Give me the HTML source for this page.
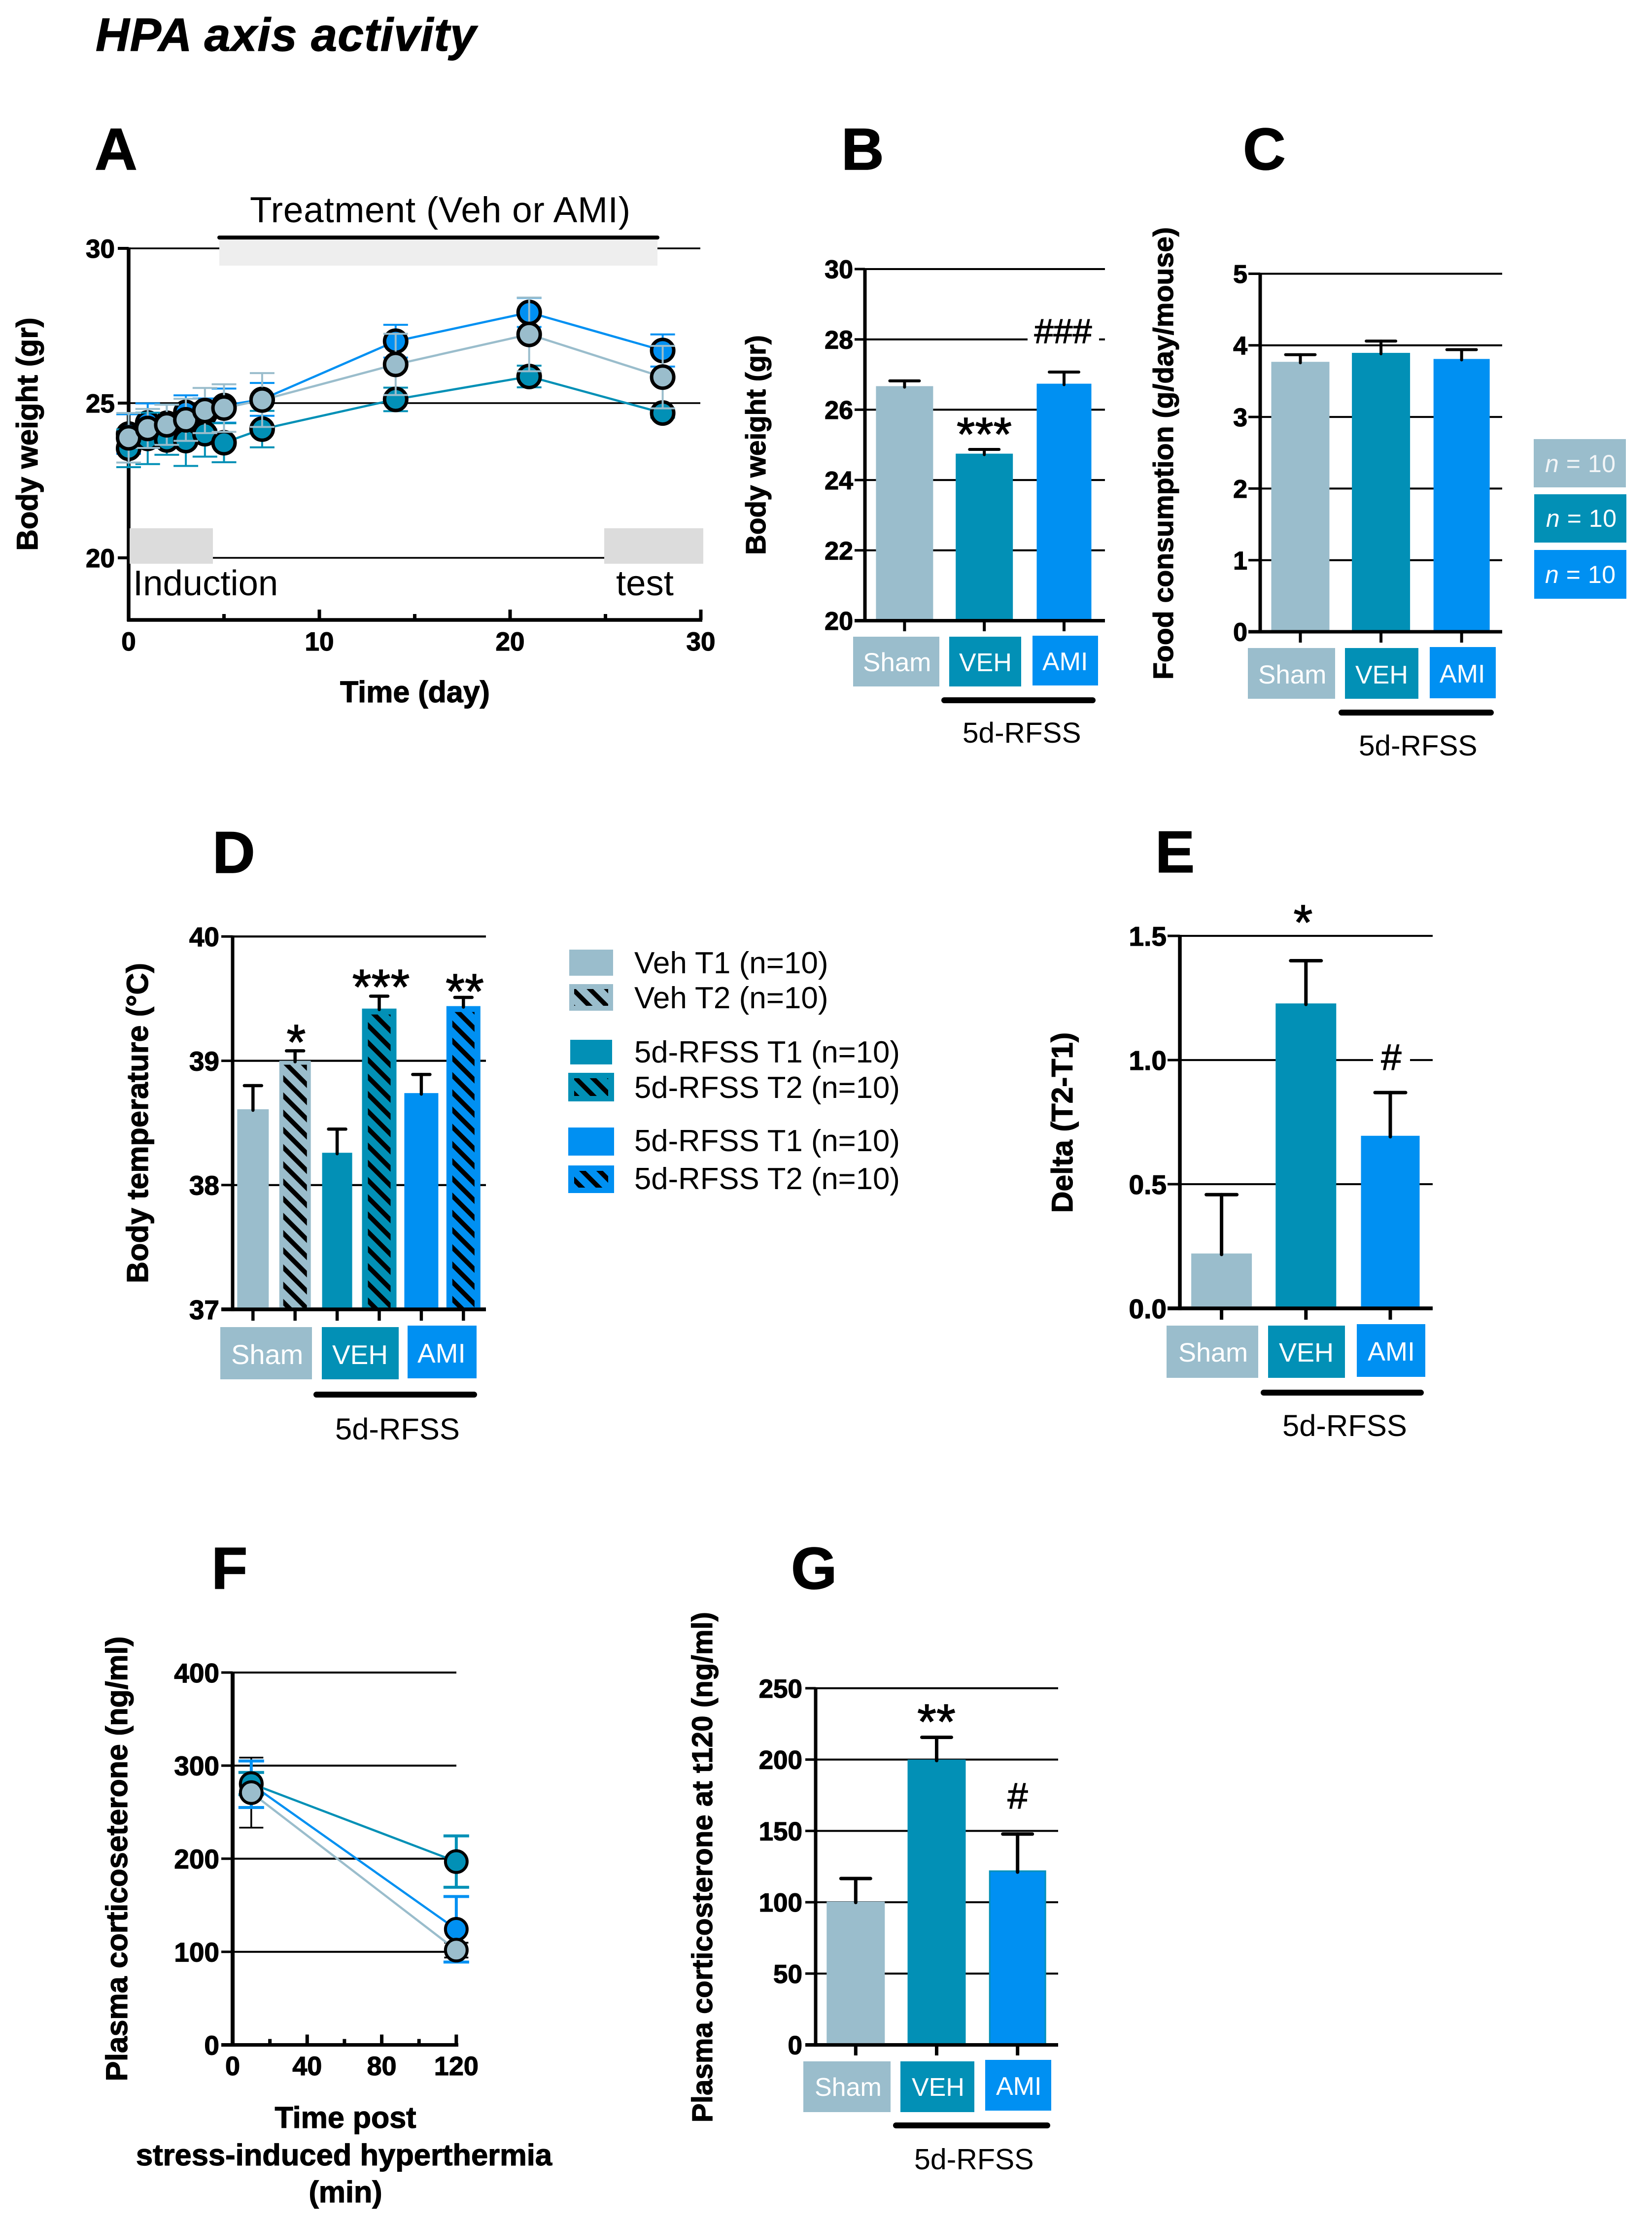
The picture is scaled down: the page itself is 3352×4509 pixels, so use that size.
<!DOCTYPE html>
<html lang="en">
<head>
<meta charset="utf-8">
<title>HPA axis activity</title>
<style>
html,body{margin:0;padding:0;background:#fff;}
svg{display:block;font-family:"Liberation Sans",Arial,sans-serif;}
.b,text[font-weight="bold"]{font-weight:bold;stroke:#000;stroke-width:1.2px;}
.lbl{font-weight:bold;font-size:120px;fill:#000;stroke:#000;stroke-width:1.5px;}
.sig{stroke:#000;stroke-width:1.4px;}
.box{fill:#fff;}
</style>
</head>
<body>
<svg id="figure" width="3352" height="4509" viewBox="0 0 3352 4509" xmlns="http://www.w3.org/2000/svg">
<defs>
<pattern id="hatch" patternUnits="userSpaceOnUse" width="24.7" height="24.7" patternTransform="rotate(45)">
<rect x="0" y="0" width="24.7" height="9.5" fill="#000"/>
</pattern>
</defs>

<text x="194" y="103" font-size="95" font-weight="bold" font-style="italic" textLength="772" lengthAdjust="spacing">HPA axis activity</text>

<!-- Panel A -->
<text class="lbl" x="192" y="344">A</text>
<text x="507" y="451" font-size="73" textLength="772" lengthAdjust="spacing">Treatment (Veh or AMI)</text>
<g id="a-axes"></g>
<rect x="445" y="484" width="889" height="55" fill="#eeeeee"/>
<line x1="445" y1="482" x2="1334" y2="482" stroke="#000" stroke-width="8" stroke-linecap="round"/>
<rect x="263" y="1072" width="169" height="72" fill="#dcdcdc"/>
<rect x="1226" y="1072" width="201" height="72" fill="#dcdcdc"/>
<text x="270" y="1208" font-size="72.5">Induction</text>
<text x="1250" y="1208" font-size="72.5">test</text>
<g id="a-marks"></g>
<text class="b" x="842" y="1425" font-size="61" text-anchor="middle">Time (day)</text>
<text class="b" x="76" y="881" font-size="60" text-anchor="middle" transform="rotate(-90 76 881)">Body weight (gr)</text>

<!-- Panel B -->
<text class="lbl" x="1707" y="344">B</text>
<g id="b-marks"></g>
<rect x="2085" y="684" width="145" height="12" fill="#fff"/>
<text class="sig" x="1997" y="914" font-size="96" text-anchor="middle">***</text>
<text class="sig" x="2157" y="696" font-size="70" text-anchor="middle">###</text>
<text class="b" x="1553" y="903" font-size="56.5" text-anchor="middle" transform="rotate(-90 1553 903)">Body weight (gr)</text>
<g>
<rect x="1731" y="1292" width="175" height="101" fill="#9abdcc"/>
<rect x="1926" y="1292" width="146" height="101" fill="#0290b6"/>
<rect x="2095" y="1290" width="133" height="101" fill="#0090f2"/>
<text class="box" x="1751" y="1362" font-size="53">Sham</text>
<text class="box" x="1946" y="1362" font-size="52">VEH</text>
<text class="box" x="2115" y="1360" font-size="52">AMI</text>
<line x1="1916" y1="1421" x2="2217" y2="1421" stroke="#000" stroke-width="12" stroke-linecap="round"/>
<text x="1953" y="1507" font-size="58.5">5d-RFSS</text>
</g>

<!-- Panel C -->
<text class="lbl" x="2522" y="344">C</text>
<g id="c-marks"></g>
<text class="b" x="2380" y="920" font-size="57" text-anchor="middle" textLength="918" lengthAdjust="spacing" transform="rotate(-90 2380 920)">Food consumption (g/day/mouse)</text>
<g>
<rect x="2532" y="1315" width="177" height="103" fill="#9abdcc"/>
<rect x="2729" y="1315" width="149" height="103" fill="#0290b6"/>
<rect x="2901" y="1313" width="134" height="104" fill="#0090f2"/>
<text class="box" x="2553" y="1387" font-size="53">Sham</text>
<text class="box" x="2750" y="1387" font-size="52">VEH</text>
<text class="box" x="2921" y="1385" font-size="52">AMI</text>
<line x1="2722" y1="1446" x2="3025" y2="1446" stroke="#000" stroke-width="12" stroke-linecap="round"/>
<text x="2757" y="1533" font-size="58.5">5d-RFSS</text>
</g>
<g>
<rect x="3112" y="891" width="187" height="98" fill="#9abdcc"/>
<rect x="3113" y="1003" width="187" height="98" fill="#0290b6"/>
<rect x="3113" y="1116" width="187" height="99" fill="#0090f2"/>
<text x="3135" y="958" font-size="50" fill="#f2f5f7" textLength="143" lengthAdjust="spacing"><tspan font-style="italic">n</tspan> = 10</text>
<text x="3137" y="1069" font-size="50" fill="#fff" textLength="143" lengthAdjust="spacing"><tspan font-style="italic">n</tspan> = 10</text>
<text x="3135" y="1183" font-size="50" fill="#fff" textLength="143" lengthAdjust="spacing"><tspan font-style="italic">n</tspan> = 10</text>
</g>

<!-- Panel D -->
<text class="lbl" x="431" y="1771">D</text>
<g id="d-marks"></g>
<text class="sig" x="601" y="2149" font-size="100" text-anchor="middle">*</text>
<text class="sig" x="773" y="2037" font-size="100" text-anchor="middle">***</text>
<text class="sig" x="943" y="2046" font-size="100" text-anchor="middle">**</text>
<text class="b" x="300" y="2279" font-size="61" text-anchor="middle" textLength="650" lengthAdjust="spacing" transform="rotate(-90 300 2279)">Body temperature (°C)</text>
<g>
<rect x="447" y="2693" width="186" height="106" fill="#9abdcc"/>
<rect x="653" y="2693" width="156" height="106" fill="#0290b6"/>
<rect x="827" y="2690" width="140" height="107" fill="#0090f2"/>
<text class="box" x="469" y="2768" font-size="56">Sham</text>
<text class="box" x="674" y="2768" font-size="55">VEH</text>
<text class="box" x="847" y="2765" font-size="55">AMI</text>
<line x1="642" y1="2830" x2="962" y2="2830" stroke="#000" stroke-width="12" stroke-linecap="round"/>
<text x="680" y="2921" font-size="61.5">5d-RFSS</text>
</g>
<g>
<rect x="1155" y="1927" width="89" height="53" fill="#9abdcc"/>
<rect x="1155" y="1997" width="89" height="54" fill="#9abdcc"/>
<rect x="1165" y="2007" width="69" height="34" fill="url(#hatch)"/>
<rect x="1157" y="2110" width="85" height="50" fill="#0290b6"/>
<rect x="1153" y="2177" width="93" height="58" fill="#0290b6"/>
<rect x="1165" y="2188" width="69" height="36" fill="url(#hatch)"/>
<rect x="1153" y="2288" width="93" height="57" fill="#0090f2"/>
<rect x="1153" y="2365" width="93" height="56" fill="#0090f2"/>
<rect x="1165" y="2376" width="69" height="34" fill="url(#hatch)"/>
<text x="1287" y="1975" font-size="62">Veh T1 (n=10)</text>
<text x="1287" y="2046" font-size="62">Veh T2 (n=10)</text>
<text x="1287" y="2156" font-size="61.7">5d-RFSS T1 (n=10)</text>
<text x="1287" y="2228" font-size="61.7">5d-RFSS T2 (n=10)</text>
<text x="1287" y="2336" font-size="61.7">5d-RFSS T1 (n=10)</text>
<text x="1287" y="2413" font-size="61.7">5d-RFSS T2 (n=10)</text>
</g>

<!-- Panel E -->
<text class="lbl" x="2344" y="1770">E</text>
<g id="e-marks"></g>
<rect x="2786" y="2145" width="75" height="12" fill="#fff"/>
<text class="sig" x="2644" y="1906" font-size="100" text-anchor="middle">*</text>
<text class="sig" x="2823" y="2171" font-size="74" text-anchor="middle">#</text>
<text class="b" x="2176" y="2278" font-size="60.5" text-anchor="middle" transform="rotate(-90 2176 2278)">Delta (T2-T1)</text>
<g>
<rect x="2367" y="2690" width="186" height="106" fill="#9abdcc"/>
<rect x="2573" y="2690" width="156" height="106" fill="#0290b6"/>
<rect x="2753" y="2687" width="139" height="107" fill="#0090f2"/>
<text class="box" x="2391" y="2763" font-size="54">Sham</text>
<text class="box" x="2595" y="2763" font-size="54">VEH</text>
<text class="box" x="2775" y="2761" font-size="54">AMI</text>
<line x1="2564" y1="2826" x2="2883" y2="2826" stroke="#000" stroke-width="12" stroke-linecap="round"/>
<text x="2602" y="2914" font-size="61.5">5d-RFSS</text>
</g>

<!-- Panel F -->
<text class="lbl" x="429" y="3224">F</text>
<g id="f-marks"></g>
<text class="b" x="258" y="3772" font-size="61" text-anchor="middle" textLength="903" lengthAdjust="spacing" transform="rotate(-90 258 3772)">Plasma corticoseterone (ng/ml)</text>
<text class="b" x="701" y="4318" font-size="61" text-anchor="middle">Time post</text>
<text class="b" x="698" y="4394" font-size="61.5" text-anchor="middle">stress-induced hyperthermia</text>
<text class="b" x="701" y="4469" font-size="61" text-anchor="middle">(min)</text>

<!-- Panel G -->
<text class="lbl" x="1605" y="3224">G</text>
<g id="g-marks"></g>
<text class="sig" x="1900" y="3528" font-size="100" text-anchor="middle">**</text>
<text class="sig" x="2065" y="3670" font-size="74" text-anchor="middle">#</text>
<text class="b" x="1445" y="3789" font-size="58" text-anchor="middle" textLength="1036" lengthAdjust="spacing" transform="rotate(-90 1445 3789)">Plasma corticosterone at t120 (ng/ml)</text>
<g>
<rect x="1630" y="4183" width="177" height="103" fill="#9abdcc"/>
<rect x="1827" y="4183" width="150" height="103" fill="#0290b6"/>
<rect x="1999" y="4180" width="134" height="103" fill="#0090f2"/>
<text class="box" x="1653" y="4253" font-size="52">Sham</text>
<text class="box" x="1850" y="4253" font-size="52">VEH</text>
<text class="box" x="2021" y="4251" font-size="52">AMI</text>
<line x1="1818" y1="4313" x2="2125" y2="4313" stroke="#000" stroke-width="12" stroke-linecap="round"/>
<text x="1855" y="4402" font-size="59">5d-RFSS</text>
</g>
</svg>

<script>
/* ---------- Panel A data ---------- */
const aDays = [0, 1, 2, 3, 4, 5, 7, 14, 21, 28];
const aShamMean = [23.88, 24.18, 24.30, 24.46, 24.76, 24.84, 25.10, 26.25, 27.22, 25.84];
const aShamErr = [0.80, 0.63, 0.65, 0.68, 0.73, 0.77, 0.87, 0.99, 1.19, 1.01];
const aVehMean = [23.54, 23.86, 23.81, 23.79, 24.01, 23.72, 24.16, 25.12, 25.86, 24.68];
const aVehErr = [0.61, 0.83, 0.48, 0.82, 0.74, 0.63, 0.59, 0.38, 0.35, 0.15];
const aAmiMean = [24.00, 24.36, 24.35, 24.70, 24.65, 24.92, 25.12, 27.00, 27.93, 26.70];
const aAmiErr = [0.64, 0.63, 0.60, 0.55, 0.50, 0.55, 0.53, 0.53, 0.47, 0.52];
const aYTicks = [20, 25, 30];
const aXTicks = [0, 10, 20, 30];
const aXMinor = [5, 15, 25];

/* ---------- Panel B data ---------- */
const bCategories = ['sham', 'veh', 'ami'];
const bValues = [26.67, 24.75, 26.74];
const bErrors = [0.15, 0.12, 0.33];
const bYTicks = [20, 22, 24, 26, 28, 30];

/* ---------- Panel C data ---------- */
const cCategories = ['sham', 'veh', 'ami'];
const cValues = [3.77, 3.895, 3.81];
const cErrors = [0.10, 0.165, 0.13];
const cYTicks = [0, 1, 2, 3, 4, 5];

/* ---------- Panel D data ---------- */
const dCategories = ['sham-t1', 'sham-t2', 'veh-t1', 'veh-t2', 'ami-t1', 'ami-t2'];
const dValues = [38.61, 39.00, 38.26, 39.42, 38.74, 39.44];
const dErrors = [0.19, 0.08, 0.19, 0.10, 0.15, 0.07];
const dYTicks = [37, 38, 39, 40];

/* ---------- Panel E data ---------- */
const eCategories = ['sham', 'veh', 'ami'];
const eValues = [0.221, 1.228, 0.695];
const eErrors = [0.237, 0.172, 0.174];
const eYTicks = ['0.0', '0.5', '1.0', '1.5'];

/* ---------- Panel F data ---------- */
const fTimes = [10, 120];
const fShamMean = [271, 101.8];
const fShamErr = [37.6, 8];
const fVehMean = [280.7, 196.9];
const fVehErr = [12, 27.6];
const fAmiMean = [280, 124.2];
const fAmiErr = [25, 35.2];
const fYTicks = [0, 100, 200, 300, 400];
const fXTicks = [0, 40, 80, 120];
const fXMinor = [20, 60, 100];

/* ---------- Panel G data ---------- */
const gCategories = ['sham', 'veh', 'ami'];
const gValues = [100.5, 200, 121.8];
const gErrors = [16.1, 15.6, 26];
const gYTicks = [0, 50, 100, 150, 200, 250];

const SHAM = '#9abdcc', VEH = '#0290b6', AMI = '#0090f2';
const NS = 'http://www.w3.org/2000/svg';

function mk(tag, parent, name, attrs) {
  const el = document.createElementNS(NS, tag);
  
  
  for (const k in attrs) el.setAttribute(k, attrs[k]);
  parent.appendChild(el);
  return el;
}
function ln(parent, name, x1, y1, x2, y2, color, w, cap) {
  return mk('line', parent, name, {x1: x1, y1: y1, x2: x2, y2: y2, stroke: color, 'stroke-width': w, 'stroke-linecap': cap || 'butt'});
}
function tx(parent, name, str, x, y, size, anchor) {
  const t = mk('text', parent, name, {x: x, y: y, 'font-size': size, 'font-weight': 'bold', 'text-anchor': anchor});
  t.textContent = str;
  return t;
}

/* Horizontal gridlines plus y tick marks and labels */
function yAxis(g, ticks, y, o) {
  ticks.forEach(function (t) {
    const yy = y(Number(t));
    const isBase = yy === y(o.base);
    ln(g, 'y-gridline-' + t, o.x0, yy, o.x1, yy, '#000', isBase ? o.baseW : o.gridW);
    ln(g, 'y-tick-' + t, o.tickLeft, yy, o.x0, yy, '#000', isBase ? o.baseW : o.tickW);
    tx(g, 'y-tick-label-' + t, String(t), o.labelX, yy + 0.36 * o.fs, o.fs, 'end');
  });
}

function barChart(g, cats, vals, errs, y, x, o) {
  yAxis(g, o.ticks, y, o);
  cats.forEach(function (c, i) {
    const cx = x(i), hw = o.widths(i) / 2, off = o.offset ? o.offset(i) : 0, col = o.colors[i];
    const top = y(vals[i]), base = y(o.base);
    const bar = mk('rect', g, 'bar-' + c, {x: cx + off - hw, y: top, width: hw * 2, height: base - top, fill: col});
    if (o.outline && o.outline(i)) {
      bar.setAttribute('stroke', VEH);
      bar.setAttribute('stroke-width', 3);
    }
    if (o.hatched && o.hatched(i)) {
      const inset = o.inset(i);
      mk('rect', g, 'bar-hatch-' + c, {x: cx + off - hw + inset, y: top + inset, width: 2 * (hw - inset), height: base - top - inset, fill: 'url(#hatch)'});
    }
    const ey = y(vals[i] + errs[i]);
    ln(g, 'error-stem-' + c, cx, top + 2, cx, ey, '#000', o.errW, 'round');
    ln(g, 'error-cap-' + c, cx - o.capW / 2, ey, cx + o.capW / 2, ey, '#000', o.errW, 'round');
    ln(g, 'x-tick-' + c, cx, base, cx, o.tickDown, '#000', o.xTickW);
  });
  ln(g, 'y-axis-line', o.x0, y(o.top) - o.gridW / 2, o.x0, y(o.base) + o.baseW / 2, '#000', o.axisW);
  ln(g, 'x-axis-line', o.tickLeft, y(o.base), o.x1, y(o.base), '#000', o.baseW);
}

function series(g, name, xs, means, errs, x, y, o) {
  const pts = xs.map(function (d, i) { return x(d) + ',' + y(means[i]); }).join(' ');
  xs.forEach(function (d, i) {
    const cx = x(d), hi = y(means[i] + errs[i]), lo = y(means[i] - errs[i]);
    ln(g, name + '-error-stem-' + d, cx, hi, cx, lo, o.errColor, o.errW);
    ln(g, name + '-error-cap-high-' + d, cx - o.capW / 2, hi, cx + o.capW / 2, hi, o.errColor, o.errW);
    ln(g, name + '-error-cap-low-' + d, cx - o.capW / 2, lo, cx + o.capW / 2, lo, o.errColor, o.errW);
  });
  mk('polyline', g, name + '-line', {points: pts, fill: 'none', stroke: o.color, 'stroke-width': o.lineW});
  xs.forEach(function (d, i) {
    mk('circle', g, name + '-point-' + d, {cx: x(d), cy: y(means[i]), r: o.r, fill: o.color, stroke: '#000', 'stroke-width': o.pointW});
  });
}

/* ---------- Panel A ---------- */
(function () {
  const axes = document.getElementById('a-axes'), marks = document.getElementById('a-marks');
  const x = function (d) { return 261 + d * 38.7; };
  const y = function (v) { return 818 - (v - 25) * 62.8; };
  aYTicks.forEach(function (t) {
    ln(axes, 'y-gridline-' + t, 261, y(t), 1421, y(t), '#000', 3.5);
    ln(axes, 'y-tick-' + t, 239, y(t), 261, y(t), '#000', 6);
    tx(axes, 'y-tick-label-' + t, String(t), 233, y(t) + 19, 53, 'end');
  });
  ln(axes, 'y-axis-line', 261, y(30) - 2, 261, 1261, '#000', 7.5);
  ln(axes, 'x-axis-line', 258, 1258, 1425, 1258, '#000', 7.5);
  aXTicks.forEach(function (t) {
    if (t > 0) ln(axes, 'x-tick-' + t, x(t), 1258, x(t), 1237, '#000', 7);
    tx(axes, 'x-tick-label-' + t, String(t), x(t), 1320, 53, 'middle');
  });
  aXMinor.forEach(function (t) {
    ln(axes, 'x-minor-tick-' + t, x(t), 1258, x(t), 1246, '#000', 7);
  });
  const base = {capW: 50, errW: 4, lineW: 4.5, r: 22.5, pointW: 7};
  series(marks, 'ami', aDays, aAmiMean, aAmiErr, x, y, Object.assign({color: AMI, errColor: AMI}, base));
  series(marks, 'veh', aDays, aVehMean, aVehErr, x, y, Object.assign({color: VEH, errColor: VEH}, base));
  series(marks, 'sham', aDays, aShamMean, aShamErr, x, y, Object.assign({color: SHAM, errColor: SHAM}, base));
})();

/* ---------- Panel B ---------- */
barChart(document.getElementById('b-marks'), bCategories, bValues, bErrors,
  function (v) { return 1259.5 - (v - 20) * 71.35; },
  function (i) { return 1835.4 + i * 161.8; },
  {ticks: bYTicks, base: 20, top: 30, x0: 1755, x1: 2242, tickLeft: 1734, labelX: 1731, fs: 52,
   gridW: 4, tickW: 5, baseW: 7, axisW: 7, errW: 6, capW: 60, xTickW: 6, tickDown: 1281,
   colors: [SHAM, VEH, AMI], widths: function (i) { return i === 2 ? 111 : 116; }});

/* ---------- Panel C ---------- */
barChart(document.getElementById('c-marks'), cCategories, cValues, cErrors,
  function (v) { return 1282 - v * 145.3; },
  function (i) { return 2638.5 + i * 163.6; },
  {ticks: cYTicks, base: 0, top: 5, x0: 2557, x1: 3048, tickLeft: 2533, labelX: 2531, fs: 52,
   gridW: 4, tickW: 5, baseW: 7, axisW: 7, errW: 6, capW: 60, xTickW: 6, tickDown: 1304,
   colors: [SHAM, VEH, AMI], widths: function (i) { return i === 2 ? 114 : 118; }});

/* ---------- Panel D ---------- */
barChart(document.getElementById('d-marks'), dCategories, dValues, dErrors,
  function (v) { return 2657 - (v - 37) * 252.2; },
  function (i) { return 513.3 + i * 85.4; },
  {ticks: dYTicks, base: 37, top: 40, x0: 472, x1: 986, tickLeft: 449, labelX: 445, fs: 55,
   gridW: 4.2, tickW: 5, baseW: 7.5, axisW: 7, errW: 6.5, capW: 35, xTickW: 6.5, tickDown: 2680,
   colors: [SHAM, SHAM, VEH, VEH, AMI, AMI],
   widths: function (i) { return (i === 0 || i === 1) ? 64 : i === 2 ? 61 : i === 3 ? 70 : 69; },
   hatched: function (i) { return i % 2 === 1; },
   inset: function (i) { return i === 1 ? 8 : 12; }});

/* ---------- Panel E ---------- */
barChart(document.getElementById('e-marks'), eCategories, eValues, eErrors,
  function (v) { return 2655 - v * 503.9; },
  function (i) { return 2478.6 + i * 171.2; },
  {ticks: eYTicks, base: 0, top: 1.5, x0: 2394, x1: 2907, tickLeft: 2369, labelX: 2367, fs: 55,
   gridW: 4, tickW: 5, baseW: 7.5, axisW: 7.5, errW: 7, capW: 62, xTickW: 7, tickDown: 2678,
   colors: [SHAM, VEH, AMI], widths: function (i) { return i === 2 ? 119 : 123; }});

/* ---------- Panel F ---------- */
(function () {
  const g = document.getElementById('f-marks');
  const x = function (m) { return 472 + m * 3.782; };
  const y = function (v) { return 4149.6 - v * 1.889; };
  yAxis(g, fYTicks, y, {base: 0, x0: 472, x1: 926, tickLeft: 449, labelX: 445, fs: 55, gridW: 4, tickW: 5, baseW: 7});
  ln(g, 'y-axis-line', 472, y(400) - 2, 472, y(0) + 3, '#000', 8);
  ln(g, 'x-axis-line', 449, y(0), 930, y(0), '#000', 7);
  fXTicks.forEach(function (t) {
    if (t > 0) ln(g, 'x-tick-' + t, x(t), y(0), x(t), y(0) - 21, '#000', 7);
    tx(g, 'x-tick-label-' + t, String(t), x(t), 4211, 54, 'middle');
  });
  fXMinor.forEach(function (t) {
    ln(g, 'x-minor-tick-' + t, x(t), y(0), x(t), y(0) - 12, '#000', 7);
  });
  series(g, 'sham-error', fTimes, fShamMean, fShamErr, x, y, {color: 'none', errColor: '#000', capW: 49, errW: 3.5, lineW: 0, r: 0, pointW: 0});
  series(g, 'ami', fTimes, fAmiMean, fAmiErr, x, y, {color: AMI, errColor: AMI, capW: 52, errW: 6, lineW: 4.5, r: 22, pointW: 6});
  series(g, 'veh', fTimes, fVehMean, fVehErr, x, y, {color: VEH, errColor: VEH, capW: 52, errW: 6, lineW: 4.5, r: 22, pointW: 6});
  const noBars = fTimes.map(function () { return 0; });
  series(g, 'sham', fTimes, fShamMean, noBars, x, y, {color: SHAM, errColor: 'none', capW: 0, errW: 0, lineW: 4.5, r: 22, pointW: 6});
})();

/* ---------- Panel G ---------- */
barChart(document.getElementById('g-marks'), gCategories, gValues, gErrors,
  function (v) { return 4149.6 - v * 2.895; },
  function (i) { return 1736.3 + i * 164.2; },
  {ticks: gYTicks, base: 0, top: 250, x0: 1655, x1: 2147, tickLeft: 1634, labelX: 1628, fs: 53,
   gridW: 4, tickW: 5, baseW: 7, axisW: 7, errW: 7, capW: 60, xTickW: 7, tickDown: 4171,
   colors: [SHAM, VEH, AMI], widths: function (i) { return i === 2 ? 113 : 118; },
   outline: function (i) { return i === 2; }});
</script>
</body>
</html>
